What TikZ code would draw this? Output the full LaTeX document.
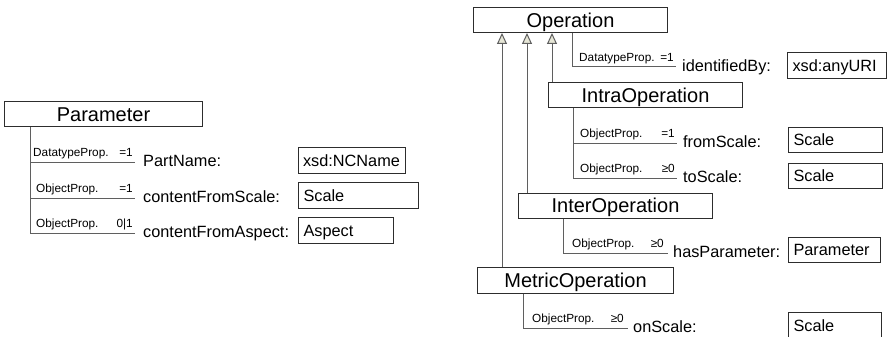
\documentclass[tikz,border=0pt]{standalone}
\usepackage{fontspec}
\setmainfont{Liberation Sans}
\usetikzlibrary{arrows.meta}
\definecolor{trifill}{RGB}{230,230,214}
\definecolor{linec}{RGB}{95,95,95}
\definecolor{boxc}{RGB}{45,45,45}
\newcommand\clsfont{\fontsize{20}{24}\selectfont}
\newcommand\nmfont{\fontsize{16.3}{19}\selectfont}
\newcommand\smfont{\fontsize{11.8}{14}\selectfont}
\begin{document}
\begin{tikzpicture}[x=1pt,y=-1pt,
  clsbox/.style={draw=boxc, line width=1pt, anchor=north west, inner sep=0pt, font=\clsfont, text height=14.3pt, text depth=0pt},
  rngbox/.style={draw=boxc, line width=1pt, anchor=north west, inner xsep=5pt, inner ysep=0pt, align=left, font=\nmfont, text height=11.7pt, text depth=0pt},
  conn/.style={draw=linec, line width=1pt},
  gen/.style={conn, -{Triangle[length=11pt,width=10pt,fill=trifill]}},
  sml/.style={font=\smfont, inner sep=0pt, anchor=base west},
  card/.style={font=\smfont, inner sep=0pt, anchor=base east},
  prop/.style={font=\nmfont, inner sep=0pt, anchor=base west}]
\useasboundingbox (0,0) rectangle (887,337);
\clip (0,0) rectangle (887,337);

% ---------- Left: Parameter ----------
\node[clsbox, minimum width=198pt, minimum height=25pt] (param) at (4,101) {Parameter};
\coordinate (pe1) at (135,162);
\coordinate (pe2) at (135,198);
\coordinate (pe3) at (135,233);
\draw[conn] ([xshift=26pt]param.south west) |- (pe3);
\draw[conn] ([xshift=26pt]param.south west |- pe1) -- (pe1);
\draw[conn] ([xshift=26pt]param.south west |- pe2) -- (pe2);
\node[sml] (l1a) at (33,156.5) {DatatypeProp.};
\node[card] (l1b) at (133,156.5) {=1};
\node[sml] (l2a) at (36,192.5) {ObjectProp.};
\node[card] (l2b) at (133,192.5) {=1};
\node[sml] (l3a) at (36,227.5) {ObjectProp.};
\node[card] (l3b) at (133,227.5) {0|1};
\node[prop] (n1) at (143,166.5) {PartName:};
\node[prop] (n2) at (143,202.5) {contentFromScale:};
\node[prop] (n3) at (143,237.5) {contentFromAspect:};
\node[rngbox, text width=97pt, minimum height=26pt] (ncname) at (297.5,147) {xsd:NCName};
\node[rngbox, text width=110pt, minimum height=26pt] (scaleL) at (298,182) {Scale};
\node[rngbox, text width=85pt, minimum height=26pt] (aspect) at (298,217) {Aspect};

% ---------- Right: Operation hierarchy ----------
\node[clsbox, minimum width=194pt, minimum height=25pt] (op) at (473,7) {Operation};
\node[clsbox, minimum width=194pt, minimum height=25pt] (intra) at (548,82) {IntraOperation};
\node[clsbox, minimum width=194pt, minimum height=25pt] (inter) at (518,192.5) {InterOperation};
\node[clsbox, minimum width=196pt, minimum height=25.5pt] (metric) at (477,267) {MetricOperation};

\draw[gen] ([xshift=29pt]op.south west |- metric.north) -- ([xshift=29pt]op.south west);
\draw[gen] ([xshift=54pt]op.south west |- inter.north) -- ([xshift=54pt]op.south west);
\draw[gen] ([xshift=79pt]op.south west |- intra.north) -- ([xshift=79pt]op.south west);

% Operation property
\coordinate (oe1) at (676,67);
\draw[conn] ([xshift=99pt]op.south west) |- (oe1);
\node[sml] (o1a) at (579,61.5) {DatatypeProp.};
\node[card] (o1b) at (674,61.5) {=1};
\node[prop] (o1n) at (682,71.5) {identifiedBy:};
\node[rngbox, text width=89pt, minimum height=26pt] (anyuri) at (787,52) {xsd:anyURI};

% IntraOperation properties
\coordinate (ie1) at (677,143);
\coordinate (ie2) at (677,178);
\draw[conn] ([xshift=25pt]intra.south west) |- (ie2);
\draw[conn] ([xshift=25pt]intra.south west |- ie1) -- (ie1);
\node[sml] (i1a) at (580,137.5) {ObjectProp.};
\node[card] (i1b) at (675,137.5) {=1};
\node[sml] (i2a) at (580,172.5) {ObjectProp.};
\node[card] (i2b) at (675,172.5) {≥0};
\node[prop] (i1n) at (683,147.5) {fromScale:};
\node[prop] (i2n) at (683,182.5) {toScale:};
\node[rngbox, text width=84pt, minimum height=25pt] (scaleA) at (788,127) {Scale};
\node[rngbox, text width=84pt, minimum height=25pt] (scaleB) at (788,163) {Scale};

% InterOperation property
\coordinate (te1) at (668,253);
\draw[conn] ([xshift=45pt]inter.south west) |- (te1);
\node[sml] (t1a) at (572,247.5) {ObjectProp.};
\node[card] (t1b) at (664,247.5) {≥0};
\node[prop] (t1n) at (673,257.5) {hasParameter:};
\node[rngbox, text width=82pt, minimum height=25pt] (paramR) at (788,237) {Parameter};

% MetricOperation property
\coordinate (me1) at (628,328);
\draw[conn] ([xshift=46pt]metric.south west) |- (me1);
\node[sml] (m1a) at (532,322.5) {ObjectProp.};
\node[card] (m1b) at (624,322.5) {≥0};
\node[prop] (m1n) at (633,332.5) {onScale:};
\node[rngbox, text width=83pt, minimum height=27pt] (scaleC) at (788,312) {Scale};
\end{tikzpicture}
\end{document}
